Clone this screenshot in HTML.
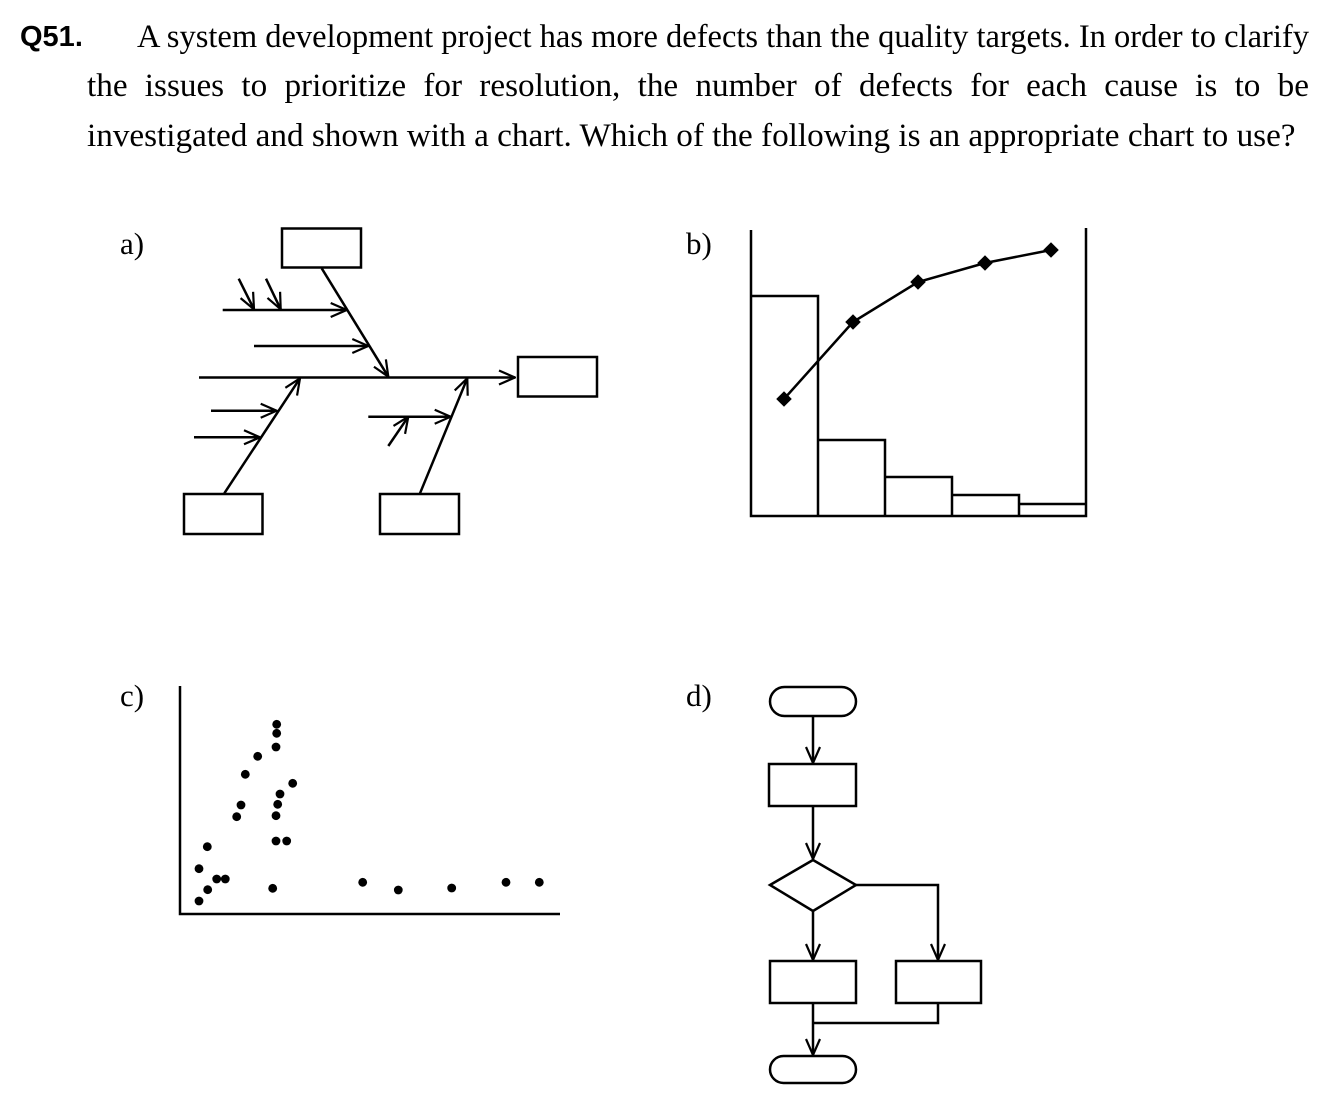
<!DOCTYPE html>
<html><head><meta charset="utf-8"><style>
html,body{margin:0;padding:0;background:#fff;}
svg{display:block;position:absolute;left:0;top:0;}
.t{position:absolute;font-family:"Liberation Serif",serif;font-size:33.2px;line-height:1;white-space:nowrap;}
.j{text-align:justify;text-align-last:justify;white-space:normal;}
</style></head><body>
<div class="t j" style="left:87px;top:69px;width:1222px;">the issues to prioritize for resolution, the number of defects for each cause is to be</div>
<div class="t" style="left:87px;top:119px;">investigated and shown with a chart. Which of the following is an appropriate chart to use?</div>
<svg width="1330" height="1104" viewBox="0 0 1330 1104" xmlns="http://www.w3.org/2000/svg">
<defs>
<marker id="ar" viewBox="0 0 18 18" refX="17" refY="9" markerWidth="18" markerHeight="18" markerUnits="userSpaceOnUse" orient="auto">
<path d="M1,2 L17,9 L1,16" fill="none" stroke="#000" stroke-width="2.2"/>
</marker>
</defs>
<text x="137" y="47" font-family="'Liberation Serif',serif" font-size="33.2" textLength="1172" lengthAdjust="spacingAndGlyphs">A system development project has more defects than the quality targets. In order to clarify</text>
<g font-family="'Liberation Serif',serif" font-size="31" fill="#000">
<text x="20" y="46" font-family="'Liberation Sans',sans-serif" font-weight="bold" font-size="29">Q51.</text>
<text x="120" y="254">a)</text>
<text x="686" y="254">b)</text>
<text x="120" y="706">c)</text>
<text x="686" y="706">d)</text>
</g>
<g stroke="#000" stroke-width="2.5" fill="none">
<rect x="282" y="228.5" width="79" height="39"/>
<rect x="518" y="357" width="79" height="39.5"/>
<rect x="184" y="494" width="78.5" height="40"/>
<rect x="380" y="494" width="79" height="40"/>
<line x1="199" y1="377.5" x2="515" y2="377.5" marker-end="url(#ar)"/>
<line x1="321.7" y1="268.3" x2="388.3" y2="376.7" marker-end="url(#ar)"/>
<line x1="222.7" y1="310" x2="346.7" y2="310" marker-end="url(#ar)"/>
<line x1="254" y1="346" x2="368.3" y2="346" marker-end="url(#ar)"/>
<line x1="238.7" y1="278.7" x2="254" y2="309.3" marker-end="url(#ar)"/>
<line x1="266" y1="278.7" x2="280.7" y2="309.3" marker-end="url(#ar)"/>
<line x1="224.3" y1="493.3" x2="300" y2="378.3" marker-end="url(#ar)"/>
<line x1="211" y1="410.7" x2="276.7" y2="410.7" marker-end="url(#ar)"/>
<line x1="194" y1="437.3" x2="260" y2="437.3" marker-end="url(#ar)"/>
<line x1="420" y1="493.3" x2="467.3" y2="378.3" marker-end="url(#ar)"/>
<line x1="368.3" y1="416.7" x2="450.7" y2="416.7" marker-end="url(#ar)"/>
<line x1="388.3" y1="446" x2="408.3" y2="416.7" marker-end="url(#ar)"/>
<polyline points="751,230 751,516 1086,516 1086,228"/>
<polyline points="751,296 818,296 818,516"/>
<polyline points="818,440 885,440 885,516"/>
<polyline points="885,477 952,477 952,516"/>
<polyline points="952,495 1019,495 1019,516"/>
<polyline points="1019,504 1086,504"/>
<polyline points="784,399 853,322 918,282 985,263 1051,250"/>
<polyline points="180,686 180,914 560,914"/>
<rect x="770" y="687" width="86" height="29" rx="14.5"/>
<rect x="769" y="764" width="87" height="42"/>
<polygon points="770,885 813,860 856,885 813,911"/>
<rect x="770" y="961" width="86" height="42"/>
<rect x="896" y="961" width="85" height="42"/>
<rect x="770" y="1056" width="86" height="27" rx="13.5"/>
<line x1="813" y1="716" x2="813" y2="763" marker-end="url(#ar)"/>
<line x1="813" y1="806" x2="813" y2="859" marker-end="url(#ar)"/>
<line x1="813" y1="911" x2="813" y2="960" marker-end="url(#ar)"/>
<polyline points="856,885 938,885 938,960" marker-end="url(#ar)"/>
<line x1="813" y1="1003" x2="813" y2="1055" marker-end="url(#ar)"/>
<polyline points="938,1003 938,1023 813,1023"/>
</g>
<g fill="#000">
<g transform="translate(784,399) rotate(45)"><rect x="-5.5" y="-5.5" width="11" height="11"/></g>
<g transform="translate(853,322) rotate(45)"><rect x="-5.5" y="-5.5" width="11" height="11"/></g>
<g transform="translate(918,282) rotate(45)"><rect x="-5.5" y="-5.5" width="11" height="11"/></g>
<g transform="translate(985,263) rotate(45)"><rect x="-5.5" y="-5.5" width="11" height="11"/></g>
<g transform="translate(1051,250) rotate(45)"><rect x="-5.5" y="-5.5" width="11" height="11"/></g>
<circle cx="276.7" cy="724.3" r="4.4"/><circle cx="276.7" cy="733.3" r="4.4"/>
<circle cx="276" cy="747" r="4.4"/><circle cx="257.7" cy="756.3" r="4.4"/>
<circle cx="245.3" cy="774.3" r="4.4"/><circle cx="292.7" cy="783.3" r="4.4"/>
<circle cx="280" cy="794" r="4.4"/><circle cx="277.7" cy="804.3" r="4.4"/>
<circle cx="241" cy="805" r="4.4"/><circle cx="276" cy="815.7" r="4.4"/>
<circle cx="236.7" cy="816.7" r="4.4"/><circle cx="276" cy="841" r="4.4"/>
<circle cx="286.7" cy="841" r="4.4"/><circle cx="207.3" cy="846.7" r="4.4"/>
<circle cx="199" cy="868.7" r="4.4"/><circle cx="216.7" cy="879" r="4.4"/>
<circle cx="225.3" cy="879" r="4.4"/><circle cx="207.7" cy="889.7" r="4.4"/>
<circle cx="272.7" cy="888.3" r="4.4"/><circle cx="199" cy="901" r="4.4"/>
<circle cx="362.7" cy="882.3" r="4.4"/><circle cx="398.3" cy="890" r="4.4"/>
<circle cx="451.7" cy="888" r="4.4"/><circle cx="506" cy="882.3" r="4.4"/>
<circle cx="539.3" cy="882.3" r="4.4"/>
</g>
</svg>
</body></html>
